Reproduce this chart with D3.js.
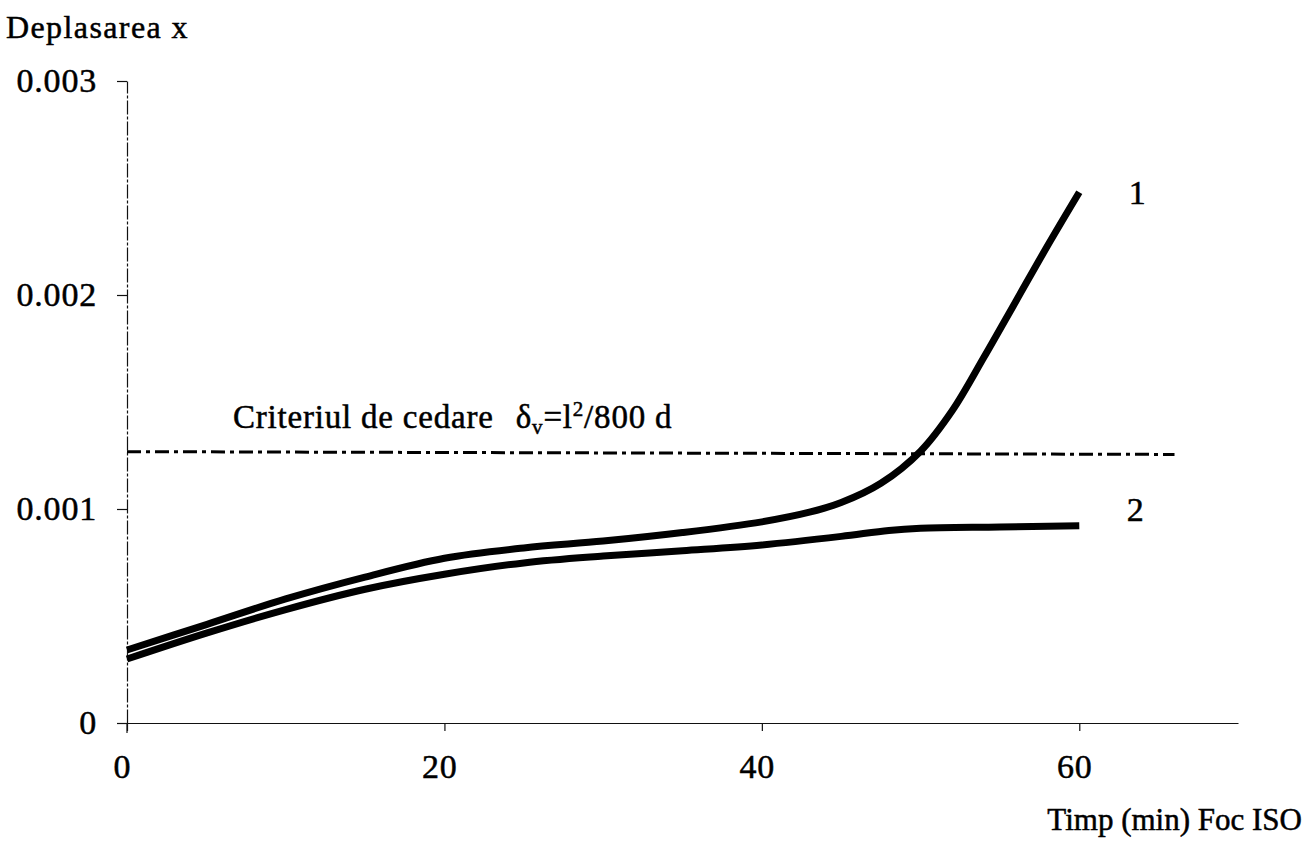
<!DOCTYPE html>
<html>
<head>
<meta charset="utf-8">
<script src="https://cdn.jsdelivr.net/npm/d3@7"></script>
<style>
html,body{margin:0;padding:0;background:#fff;}
svg{display:block;}
text{font-family:"Liberation Serif","Times New Roman",serif;fill:#000;stroke:#000;stroke-width:0.5px;}
</style>
</head>
<body>
<svg id="chart" width="1305" height="844"></svg>
<script>
// ---- data ----
const time1 = [0, 5, 10, 15, 20, 25, 30, 35, 40, 43, 45, 47.5, 50, 52, 54, 56, 58, 60];
const disp1 = [0.000341, 0.00046, 0.00058, 0.000682, 0.00077, 0.000818, 0.00085, 0.00089, 0.00094, 0.000985, 0.00103, 0.00112, 0.00127, 0.00146, 0.00171, 0.00197, 0.00223, 0.00248];
const time2 = [0, 5, 10, 15, 20, 25, 30, 35, 40, 45, 48, 50, 55, 60];
const disp2 = [0.000299, 0.00042, 0.00053, 0.000625, 0.000695, 0.000748, 0.00078, 0.000805, 0.000832, 0.000872, 0.000900, 0.00091, 0.000916, 0.000922];
const critTime = [0, 66];
const critDisp = [0.001268, 0.001255];
const xTicks = [0, 20, 40, 60];
const yTicks = [0, 0.001, 0.002, 0.003];
const yTickLabels = ["0", "0.001", "0.002", "0.003"];
const seriesLabels = ["1", "2"];

const svg = d3.select("#chart");
const x = d3.scaleLinear().domain([0, 70]).range([127, 1238]);
const y = d3.scaleLinear().domain([0, 0.003]).range([723, 81]);
const FONT = '"Liberation Serif",serif';

// axes
const xAxis = d3.axisBottom(x).tickValues(xTicks).tickSize(8).tickSizeOuter(0).tickFormat(d3.format("d"));
const gx = svg.append("g").attr("transform", `translate(0,${y(0)})`).call(xAxis);
gx.select(".domain").attr("stroke", "#111").attr("stroke-width", 1.2);
gx.selectAll(".tick line").attr("stroke", "#111").attr("stroke-width", 1.2);
gx.selectAll(".tick text").attr("font-size", 34).attr("dy", "1.3em").attr("dx", "-0.15em")
  .attr("letter-spacing", 0.8).attr("font-family", FONT);

const yAxis = d3.axisLeft(y).tickValues(yTicks).tickSize(10).tickSizeOuter(0).tickFormat((d, i) => yTickLabels[i]);
const gy = svg.append("g").attr("transform", `translate(${x(0)},0)`).call(yAxis);
gy.select(".domain").attr("stroke", "#111").attr("stroke-width", 1.2).attr("stroke-dasharray", "14,2,3,2");
gy.selectAll(".tick text").attr("font-size", 34).attr("dx", "-0.5em").attr("letter-spacing", 0.8).attr("font-family", FONT);
gy.selectAll(".tick line").attr("stroke", "#111").attr("stroke-width", 1.2);
// small extension of y axis below the origin
svg.append("line").attr("x1", x(0)).attr("x2", x(0)).attr("y1", y(0)).attr("y2", y(0) + 10)
  .attr("stroke", "#111").attr("stroke-width", 1.2);

// criterion line
const critData = critTime.map((t, i) => [t, critDisp[i]]);
svg.append("path").datum(critData)
  .attr("d", d3.line().x(d => x(d[0])).y(d => y(d[1])))
  .attr("fill", "none").attr("stroke", "#000").attr("stroke-width", 3)
  .attr("stroke-dasharray", "14,5,4,5");

const line = d3.line().x(d => x(d[0])).y(d => y(d[1])).curve(d3.curveCatmullRom.alpha(0.5));
const s1 = time1.map((t, i) => [t, disp1[i]]);
const s2 = time2.map((t, i) => [t, disp2[i]]);
[s1, s2].forEach(s => {
  svg.append("path").datum(s).attr("d", line)
    .attr("fill", "none").attr("stroke", "#000").attr("stroke-width", 7)
    .attr("stroke-linejoin", "round");
});

// series labels
svg.append("text").attr("x", x(60) + 58).attr("y", y(disp1[disp1.length - 1]) + 12)
  .attr("font-size", 34).attr("text-anchor", "middle").text(seriesLabels[0]);
svg.append("text").attr("x", x(60) + 56).attr("y", y(disp2[disp2.length - 1]) - 5)
  .attr("font-size", 34).attr("text-anchor", "middle").text(seriesLabels[1]);

// titles
svg.append("text").attr("x", 6).attr("y", 38).attr("font-size", 32).attr("letter-spacing", 1.4).text("Deplasarea x");
svg.append("text").attr("x", 1302).attr("y", 830).attr("font-size", 31).attr("text-anchor", "end").text("Timp (min) Foc ISO");

// criterion annotation
const ann = svg.append("text").attr("x", 233).attr("y", 428).attr("font-size", 33).attr("letter-spacing", 0.8);
ann.append("tspan").text("Criteriul de cedare");
ann.append("tspan").attr("dx", 22).text("δ");
ann.append("tspan").attr("font-size", 21).attr("dy", 6).text("v");
ann.append("tspan").attr("dy", -6).text("=l");
ann.append("tspan").attr("font-size", 21).attr("dy", -12).text("2");
ann.append("tspan").attr("dy", 12).text("/800 d");
</script>
</body>
</html>
